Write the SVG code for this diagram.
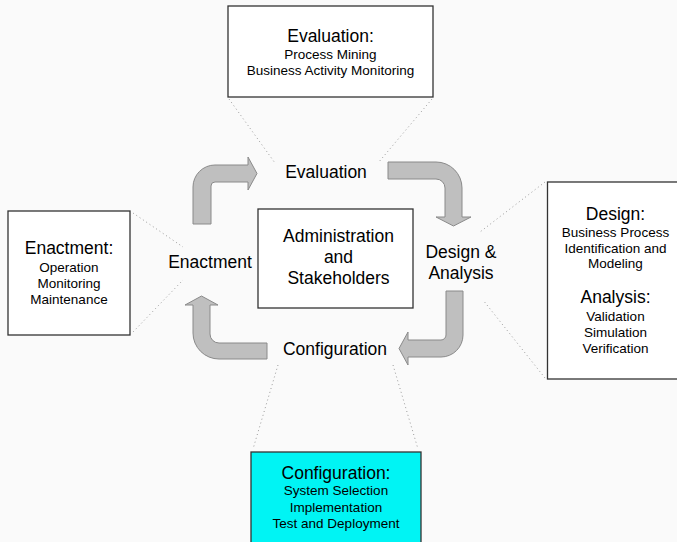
<svg xmlns="http://www.w3.org/2000/svg" width="677" height="542" viewBox="0 0 677 542">
<style>
text{font-family:"Liberation Sans",Arial,sans-serif;fill:#000;text-anchor:middle}
.big{font-size:17.5px}
.small{font-size:13.5px}
.box{fill:#ffffff;stroke:#333333;stroke-width:1.3}
.arrow{fill:#bfbfbf;stroke:#8a8a8a;stroke-width:1}
.dot{fill:none;stroke:#9a9a9a;stroke-width:1;stroke-dasharray:1 3}
</style>
<rect x="0" y="0" width="677" height="542" fill="#fafafa"/>
<g id="connectors">
<line class="dot" x1="229" y1="99" x2="275" y2="163"/>
<line class="dot" x1="432" y1="99" x2="378" y2="163"/>
<line class="dot" x1="133" y1="213" x2="183" y2="247"/>
<line class="dot" x1="133" y1="332" x2="183" y2="280"/>
<line class="dot" x1="545" y1="182" x2="480" y2="232"/>
<line class="dot" x1="545" y1="378" x2="483" y2="300"/>
<line class="dot" x1="278" y1="365" x2="253" y2="449"/>
<line class="dot" x1="393" y1="365" x2="418" y2="449"/>
<path class="arrow" d="M193,224 L193,187 A22,22 0 0 1 215,165 L248,165 L248,157 L257,173.5 L248,190 L248,182 L215,182 A4,4 0 0 0 211,186 L211,224 Z"/>
<path class="arrow" d="M388,162 L436,162 A26,26 0 0 1 462,188 L462,217 L471,217 L453.5,226 L436,217 L445,217 L445,188 A9,9 0 0 0 436,179 L388,179 Z"/>
<path class="arrow" d="M446,291 L463,291 L463,335 A22,22 0 0 1 441,357 L408,357 L408,365 L399,348.5 L408,332 L408,340 L441,340 A5,5 0 0 0 446,335 Z"/>
<path class="arrow" d="M267,343 L219,343 A9,9 0 0 1 210,334 L210,305 L218,305 L201.5,296 L185,305 L193,305 L193,333 A26,26 0 0 0 219,359 L267,359 Z"/>
</g>
<g id="evaluation-box">
<rect class="box" x="228" y="6" width="205" height="91"/>
<text class="big" x="330.5" y="42">Evaluation:</text>
<text class="small" x="330.5" y="58.5">Process Mining</text>
<text class="small" x="330.5" y="74.5">Business Activity Monitoring</text>
</g>
<g id="enactment-box">
<rect class="box" x="8" y="211" width="122" height="124"/>
<text class="big" x="69" y="254">Enactment:</text>
<text class="small" x="69" y="271.5">Operation</text>
<text class="small" x="69" y="287.5">Monitoring</text>
<text class="small" x="69" y="303.5">Maintenance</text>
</g>
<g id="design-box">
<rect class="box" x="547.5" y="182" width="140" height="197"/>
<text class="big" x="615.5" y="220">Design:</text>
<text class="small" x="615.5" y="236.5">Business Process</text>
<text class="small" x="615.5" y="252.5">Identification and</text>
<text class="small" x="615.5" y="268">Modeling</text>
<text class="big" x="615.5" y="303">Analysis:</text>
<text class="small" x="615.5" y="320.5">Validation</text>
<text class="small" x="615.5" y="336.5">Simulation</text>
<text class="small" x="615.5" y="353">Verification</text>
</g>
<g id="configuration-box">
<rect x="251" y="452" width="170" height="100" fill="#00f4f4" stroke="#333333" stroke-width="1.3"/>
<text class="big" x="336" y="478.5">Configuration:</text>
<text class="small" x="336" y="495">System Selection</text>
<text class="small" x="336" y="511.5">Implementation</text>
<text class="small" x="336" y="527.5">Test and Deployment</text>
</g>
<g id="admin">
<rect class="box" x="258" y="209" width="155" height="99"/>
<text class="big" x="338.5" y="242">Administration</text>
<text class="big" x="338.5" y="263">and</text>
<text class="big" x="338.5" y="284">Stakeholders</text>
</g>
<g id="evaluation">
<text class="big" x="326" y="178">Evaluation</text>
</g>
<g id="enactment">
<text class="big" x="210" y="268">Enactment</text>
</g>
<g id="design-analysis">
<text class="big" x="461" y="258">Design &amp;</text>
<text class="big" x="461" y="279">Analysis</text>
</g>
<g id="configuration">
<text class="big" x="335" y="355">Configuration</text>
</g>
</svg>
